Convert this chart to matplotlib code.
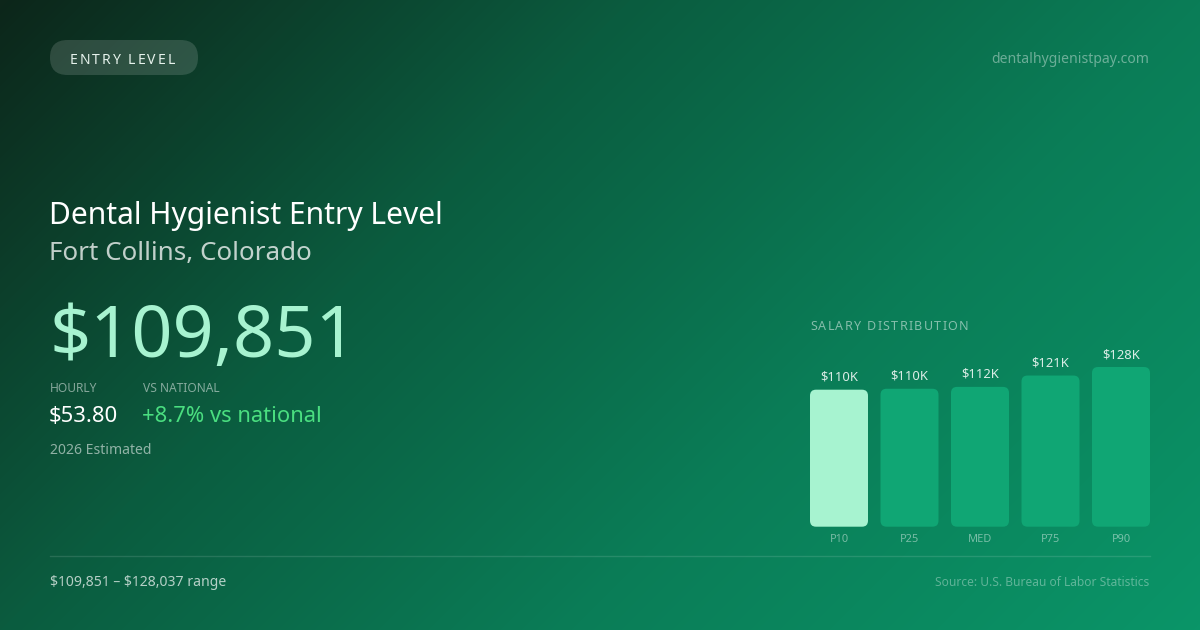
import numpy as np
import matplotlib
matplotlib.use("Agg")
from matplotlib import pyplot as plt
from matplotlib.patches import FancyBboxPatch
from matplotlib.colors import LinearSegmentedColormap

plt.rcParams['font.family'] = ['Noto Sans', 'DejaVu Sans']

# data
categories = ['P10', 'P25', 'MED', 'P75', 'P90']
salaries = [109851, 110600, 112100, 121200, 128037]
bar_labels = ['$110K', '$110K', '$112K', '$121K', '$128K']

W, H = 1200, 630
PT = 0.72  # px -> pt at dpi 100


def fx(x):
    return x / W


def fy(y):
    return 1 - y / H


fig = plt.figure(figsize=(12, 6.3), dpi=100)

# background gradient (135deg)
bg = fig.add_axes([0, 0, 1, 1])
xx, yy = np.meshgrid(np.arange(W), np.arange(H))
t = (xx + yy) / (W + H)
cmap = LinearSegmentedColormap.from_list('bg', [
    (0.0, '#0d261a'), (0.344, '#0b5c3f'), (0.656, '#0a7d57'), (1.0, '#0a9568')])
bg.imshow(t, cmap=cmap, vmin=0, vmax=1, aspect='auto', extent=[0, W, H, 0])
bg.set_xlim(0, W)
bg.set_ylim(H, 0)
bg.axis('off')

renderer = fig.canvas.get_renderer()


def spaced(x, y, s, size, spacing, **kw):
    # letter-spaced text, drawn char by char
    for ch in s:
        if ch == ' ':
            x += 0.26 * size + spacing
            continue
        tx = fig.text(fx(x), fy(y), ch, fontsize=size * PT, **kw)
        x += tx.get_window_extent(renderer).width + spacing


# pill
pill = FancyBboxPatch((50, 40), 148, 35, boxstyle='round,pad=0,rounding_size=17.5',
                      facecolor='white', alpha=0.14, edgecolor='none')
bg.add_patch(pill)
spaced(70, 58, 'ENTRY LEVEL', 14, 1.9, color='#e6f2ec', va='center_baseline')

fig.text(fx(1149), fy(63), 'dentalhygienistpay.com', fontsize=14 * PT,
         color='white', alpha=0.4, ha='right', va='baseline')

# headings
fig.text(fx(49), fy(224), 'Dental Hygienist Entry Level', fontsize=30 * PT,
         color='white', va='baseline')
fig.text(fx(49), fy(260), 'Fort Collins, Colorado', fontsize=26 * PT,
         color='white', alpha=0.75, va='baseline')
fig.text(fx(49), fy(357), '$109,851', fontsize=72 * PT, color='#a7f3d0', va='baseline')

fig.text(fx(50), fy(392), 'HOURLY', fontsize=12 * PT, color='white', alpha=0.5, va='baseline')
fig.text(fx(143), fy(392), 'VS NATIONAL', fontsize=12 * PT, color='white', alpha=0.5,
         va='baseline')
fig.text(fx(49), fy(422), '$53.80', fontsize=22 * PT, color='white', va='baseline')
fig.text(fx(142), fy(422), '+8.7% vs national', fontsize=22 * PT, color='#4ade80',
         va='baseline')
fig.text(fx(50), fy(454), '2026 Estimated', fontsize=14 * PT, color='white', alpha=0.55,
         va='baseline')

# footer
bg.plot([50, 1150], [556, 556], color='white', alpha=0.12, lw=1)
fig.text(fx(50), fy(586), '\\$109,851 \u2013 \\$128,037 range', fontsize=14 * PT,
         color='white', alpha=0.7, va='baseline')
fig.text(fx(1149), fy(586), 'Source: U.S. Bureau of Labor Statistics', fontsize=12 * PT,
         color='white', alpha=0.35, ha='right', va='baseline')

# salary distribution
spaced(810, 330, 'SALARY DISTRIBUTION', 12.5, 1.3, color='white', alpha=0.5,
       va='baseline')

bar_bottom = 526.7
bar_px = 159.7
pitch = 70.5
left = 839 - pitch / 2
ax = fig.add_axes([fx(left), fy(bar_bottom), 5 * pitch / W, bar_px / H])
ax.set_xlim(-0.5, 4.5)
ax.set_ylim(0, max(salaries))
ax.axis('off')

x = np.arange(len(categories))
bars = ax.bar(x, salaries, width=58 / pitch)
r = 6
asp = (r * max(salaries) / bar_px) / (r / pitch)
for i, b in enumerate(bars):
    b.set_visible(False)
    color = '#a7f3d0' if i == 0 else '#10a674'
    p = FancyBboxPatch((b.get_x(), 0), b.get_width(), b.get_height(),
                       boxstyle=f'round,pad=0,rounding_size={r / pitch}',
                       mutation_aspect=asp, facecolor=color, edgecolor='none',
                       clip_on=False)
    ax.add_patch(p)
    ax.annotate(bar_labels[i], (x[i], salaries[i]), xytext=(0, 12.5 * PT),
                textcoords='offset points', ha='center', va='center',
                fontsize=13 * PT, color='white', alpha=0.85, annotation_clip=False)
    ax.annotate(categories[i], (x[i], 0), xytext=(0, -12.5 * PT),
                textcoords='offset points', ha='center', va='center',
                fontsize=11 * PT, color='white', alpha=0.45, annotation_clip=False)

fig.savefig('out.png', dpi=100)
